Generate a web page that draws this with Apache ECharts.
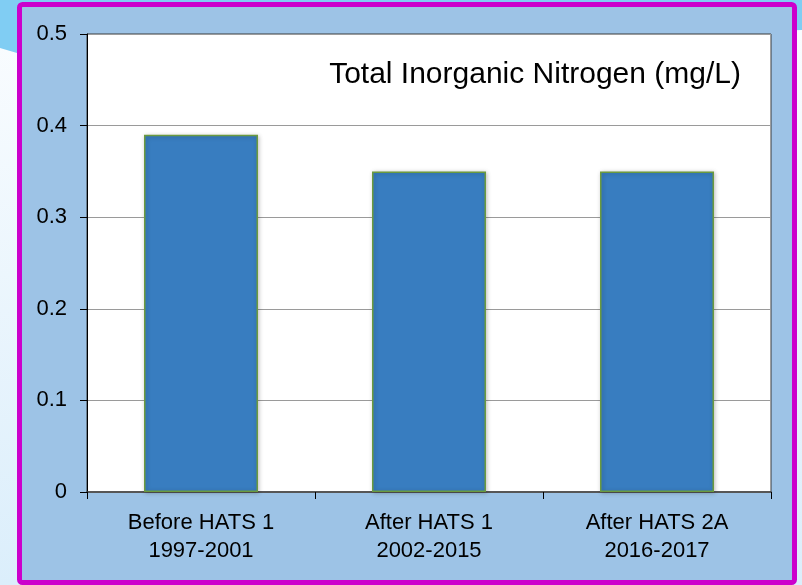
<!DOCTYPE html>
<html>
<head>
<meta charset="utf-8">
<script src="https://cdn.jsdelivr.net/npm/echarts@6/dist/echarts.min.js"></script>
<style>html,body{margin:0;padding:0;}#c{width:802px;height:585px;}</style>
</head>
<body>
<div id="c"></div>
<script>
const categories = ['Before HATS 1\n1997-2001', 'After HATS 1\n2002-2015', 'After HATS 2A\n2016-2017'];
const values = [0.39, 0.35, 0.35];
const chartTitle = 'Total Inorganic Nitrogen (mg/L)';
const yMin = 0, yMax = 0.5, yInterval = 0.1;

const chart = echarts.init(document.getElementById('c'));
const font = '"Liberation Sans", Arial, sans-serif';
chart.setOption({
  animation: false,
  graphic: [
    { type: 'rect', z: -10, silent: true, shape: { x: 0, y: 0, width: 802, height: 585 },
      style: { fill: new echarts.graphic.LinearGradient(0, 0, 0, 1, [{offset: 0, color: '#fbfdff'}, {offset: 1, color: '#dbeefb'}]) } },
    { type: 'polygon', z: -9, silent: true, shape: { points: [[0,0],[802,0],[802,30],[17,53],[0,48]] },
      style: { fill: '#80cdf3' } },
    { type: 'rect', z: -8, silent: true, shape: { x: 19.5, y: 4.5, width: 775, height: 578, r: 3 },
      style: { fill: '#9dc3e6', stroke: '#cc00cc', lineWidth: 5 } }
  ],
  title: {
    text: chartTitle,
    right: 56, top: 55,
    textStyle: { fontFamily: font, fontSize: 30, fontWeight: 'normal', color: '#000' }
  },
  grid: {
    left: 87, top: 34, right: 31, bottom: 93,
    show: true, backgroundColor: '#ffffff', borderColor: '#3a3a3a', borderWidth: 1
  },
  xAxis: {
    type: 'category', data: categories,
    axisLine: { lineStyle: { color: '#404040', width: 1.5 } },
    axisTick: { show: true, length: 7, lineStyle: { color: '#000' } },
    axisLabel: { color: '#000', fontFamily: font, fontSize: 22, lineHeight: 28, margin: 17 }
  },
  yAxis: {
    type: 'value', min: yMin, max: yMax, interval: yInterval,
    axisLine: { show: true, lineStyle: { color: '#000', width: 1 } },
    axisTick: { show: true, length: 7, lineStyle: { color: '#000' } },
    axisLabel: { color: '#000', fontFamily: font, fontSize: 22, margin: 20 },
    splitLine: { lineStyle: { color: '#9a9a9a', width: 1 } }
  },
  series: [{
    type: 'bar', data: values, barWidth: '50%',
    itemStyle: { color: '#387dc0', borderColor: '#6b9a3f', borderWidth: 1.5,
      shadowColor: 'rgba(0,0,0,0.25)', shadowBlur: 4, shadowOffsetX: 1, shadowOffsetY: 1 }
  }]
});
</script>
</body>
</html>
